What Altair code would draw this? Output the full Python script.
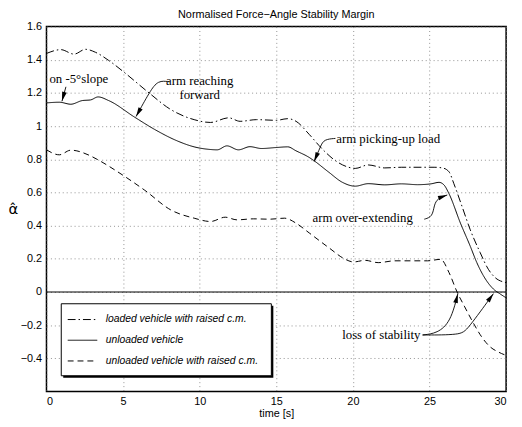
import math
import altair as alt
import pandas as pd

# ---------------- data ----------------
series_names = [
    "loaded vehicle with raised c.m.",
    "unloaded vehicle",
    "unloaded vehicle with raised c.m.",
]

t_loaded = [0, 0.94, 1.8, 2.55, 3.2, 4.06, 5.13, 6.63, 8.13, 9.64, 10.7, 11.89, 12.64,
            13.71, 15.0, 15.75, 16.29, 17.15, 18.01, 18.87, 19.72, 20.15, 21.0, 22.08,
            23.16, 25.3, 25.84, 26.27, 26.59, 27.13, 27.66, 28.31, 28.84, 29.27, 29.92, 30]
y_loaded = [1.438, 1.461, 1.434, 1.463, 1.445, 1.396, 1.32, 1.205, 1.099, 1.039, 1.022,
            1.05, 1.029, 1.039, 1.035, 1.045, 1.029, 0.95, 0.861, 0.791, 0.752, 0.745,
            0.766, 0.748, 0.752, 0.752, 0.748, 0.725, 0.653, 0.514, 0.375, 0.237, 0.137,
            0.088, 0.058, 0.056]

t_unloaded = [0, 0.84, 1.59, 2.34, 2.88, 3.37, 4.06, 5.77, 7.06, 8.56, 9.64, 10.71, 11.14,
              11.78, 12.53, 13.28, 14.04, 15.0, 15.75, 16.29, 17.15, 17.47, 18.43, 19.3,
              20.15, 21.0, 22.08, 23.16, 24.23, 25.1, 25.62, 25.95, 26.27, 27.02, 27.66,
              28.09, 28.52, 29.17, 29.6, 30]
y_unloaded = [1.14, 1.144, 1.132, 1.154, 1.158, 1.176, 1.154, 1.053, 0.98, 0.91, 0.875,
              0.859, 0.857, 0.881, 0.857, 0.876, 0.865, 0.871, 0.875, 0.851, 0.811, 0.791,
              0.722, 0.662, 0.638, 0.653, 0.646, 0.652, 0.647, 0.652, 0.661, 0.645, 0.593,
              0.415, 0.276, 0.177, 0.098, 0.018, -0.011, -0.035]

t_raised = [0, 0.84, 1.59, 2.77, 3.3, 5.02, 6.42, 8.13, 9.64, 10.71, 11.67, 12.43, 13.5,
            14.57, 15.54, 16.29, 17.15, 18.43, 19.51, 20.04, 20.79, 21.65, 22.73, 24.87,
            25.73, 26.27, 26.8, 27.3, 27.88, 28.4, 28.95, 29.5, 30]
y_raised = [0.857, 0.827, 0.855, 0.825, 0.80, 0.702, 0.613, 0.494, 0.445, 0.425, 0.451,
            0.435, 0.441, 0.439, 0.445, 0.415, 0.356, 0.267, 0.197, 0.181, 0.191, 0.177,
            0.188, 0.188, 0.197, 0.118, 0.0, -0.09, -0.19, -0.27, -0.33, -0.362, -0.382]

x_ticks = [0, 5, 10, 15, 20, 25, 30]
y_ticks = [-0.4, -0.2, 0, 0.2, 0.4, 0.6, 0.8, 1.0, 1.2, 1.4, 1.6]

# annotation labels (data coordinates)
ann_text = ["on -5°slope", "arm reaching\nforward", "arm picking-up load",
            "arm over-extending", "loss of stability"]
ann_t = [0.19, 10.0, 18.91, 17.36, 19.3]
ann_y = [1.285, 1.273, 0.924, 0.445, -0.259]
ann_align = ["left", "center", "left", "left", "left"]

# annotation arrows (data coordinates), last point = tip
arrow_paths = {
    "a1": [(1.27, 1.237), (1.01, 1.15)],
    "a2": [(8.03, 1.267), (7.28, 1.277), (6.74, 1.208), (5.85, 1.058)],
    "a3": [(18.86, 0.926), (18.11, 0.920), (17.9, 0.881), (17.47, 0.787)],
    "a4": [(24.66, 0.439), (25.2, 0.454), (25.3, 0.524), (25.52, 0.564), (26.16, 0.585)],
    "a5": [(24.55, -0.259), (25.51, -0.249), (26.38, -0.18), (26.85, -0.01)],
    "a6": [(24.55, -0.259), (27.02, -0.259), (27.45, -0.229), (29.17, -0.01)],
}

# ---------------- build tables ----------------
W, H = 466, 370
XD, YD = [0, 30], [-0.6, 1.6]
sx = W / (XD[1] - XD[0])
sy = H / (YD[1] - YD[0])

rows = []
for name, ts, ys_ in zip(series_names, [t_loaded, t_unloaded, t_raised],
                         [y_loaded, y_unloaded, y_raised]):
    for t, v in zip(ts, ys_):
        rows.append({"series": name, "t": t, "v": v})
df = pd.DataFrame(rows)

arr_rows, head_rows = [], []
for key, pts in arrow_paths.items():
    for i, (t, v) in enumerate(pts):
        arr_rows.append({"id": key, "i": i, "t": t, "v": v})
    (t0, v0), (t1, v1) = pts[-2], pts[-1]
    ang = math.degrees(math.atan2((t1 - t0) * sx, (v1 - v0) * sy)) % 360
    head_rows.append({"t": t1, "v": v1, "ang": ang})
arr_df = pd.DataFrame(arr_rows)
head_df = pd.DataFrame(head_rows)
ann_df = pd.DataFrame({"text": ann_text, "t": ann_t, "v": ann_y, "align": ann_align})

xs = alt.Scale(domain=XD, nice=False, zero=False)
ys = alt.Scale(domain=YD, nice=False, zero=False)

x_axis = alt.Axis(values=x_ticks, title="time [s]", titleY=25, titleBaseline="alphabetic",
                  labelPadding=4, labelOverlap=False)
y_axis = alt.Axis(values=y_ticks, format=".1~f", title="α̂", titleAngle=0,
                  titleX=-34, titleY=185, titleAlign="center", titleBaseline="middle",
                  titleFontSize=15, titleFont="DejaVu Sans", labelPadding=5,
                  labelOverlap=False)

X = alt.X("t:Q", scale=xs, axis=x_axis)
Y = alt.Y("v:Q", scale=ys, axis=y_axis)

lines = alt.Chart(df).mark_line(color="black", strokeWidth=1, interpolate="monotone",
                                clip=True).encode(
    x=X, y=Y,
    strokeDash=alt.StrokeDash(
        "series:N",
        scale=alt.Scale(domain=series_names, range=[[8, 3, 1.5, 3], [1, 0], [6, 4]]),
        legend=alt.Legend(title=None, orient="none", legendX=21, legendY=286.5,
                          symbolType="stroke", symbolSize=900, symbolStrokeWidth=1,
                          symbolStrokeColor="black", labelFont="Liberation Sans",
                          labelFontSize=10.5, labelFontStyle="italic", labelColor="black",
                          labelOffset=8, clipHeight=21, rowPadding=0, padding=0,
                          labelLimit=400),
    ),
)

zero = alt.Chart(pd.DataFrame({"t": [0], "v": [0]})).mark_rule(
    color="black", strokeWidth=1).encode(y=Y)

box_data = alt.Data(values=[{}])
shadow = alt.Chart(box_data).mark_rect(color="black").encode(
    x=alt.value(17), x2=alt.value(230), y=alt.value(283), y2=alt.value(356)
)
frame = alt.Chart(box_data).mark_rect(fill="white", stroke="black", strokeWidth=1).encode(
    x=alt.value(15), x2=alt.value(228), y=alt.value(281), y2=alt.value(354)
)

arrows = alt.Chart(arr_df).mark_line(color="black", strokeWidth=0.9,
                                     interpolate="basis").encode(
    x=X, y=Y, detail="id:N", order="i:Q"
)
heads = alt.Chart(head_df).mark_point(
    shape="M0,0L-0.5,2L0.5,2Z", filled=True, color="black", opacity=1, size=90,
    strokeWidth=0
).encode(
    x=X, y=Y, angle=alt.Angle("ang:Q", scale=None)
)

labels = alt.layer(*[
    alt.Chart(ann_df[ann_df["align"] == a]).mark_text(
        font="Liberation Serif", fontSize=13, color="black", align=a,
        baseline="middle", lineBreak="\n", lineHeight=14
    ).encode(x=X, y=Y, text="text:N")
    for a in ["left", "center"]
])

chart = alt.layer(shadow, frame, zero, lines, arrows, heads, labels).properties(
    width=W, height=H,
    autosize=alt.AutoSizeParams(type="none"),
    padding={"left": 39, "top": 16, "right": 8, "bottom": 25},
    title=alt.Title("Normalised Force−Angle Stability Margin", font="Liberation Sans",
                    fontSize=11, fontWeight="normal", offset=1, anchor="middle",
                    frame="group", color="black"),
).configure_view(stroke="black", strokeWidth=1.5).configure_axis(
    labelFont="Liberation Sans", labelFontSize=11, labelColor="black",
    titleFont="Liberation Sans", titleFontSize=11, titleFontWeight="normal",
    titleColor="black", ticks=False, domain=False, grid=True, gridColor="#777777",
    gridDash=[1, 3], gridWidth=0.8, labelOverlap=False,
)

chart.save("out.html", embed_options={"renderer": "svg", "actions": False})
